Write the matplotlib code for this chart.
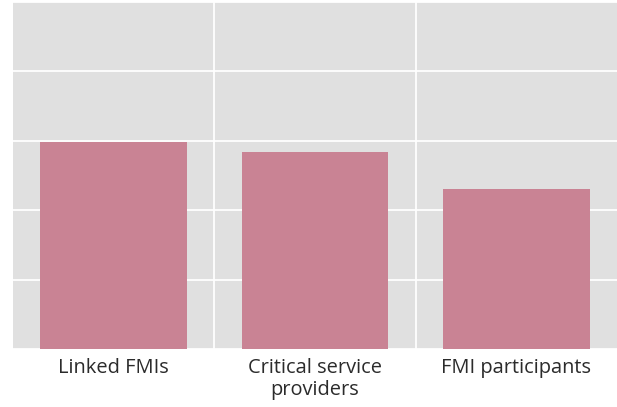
import matplotlib
matplotlib.use("Agg")
import matplotlib.pyplot as plt
from matplotlib.ticker import FixedLocator

categories = ["Linked FMIs", "Critical service\nproviders", "FMI participants"]
values = [2.98, 2.84, 2.30]

fig = plt.figure(figsize=(6.17, 4.07), dpi=100)
ax = fig.add_axes([13/617, 1 - 349/407, 604/617, 347/407])
ax.set_facecolor("#e0e0e0")
x = list(range(len(categories)))
ax.bar(x, values, width=0.73, color="#c98394", zorder=3)
ax.set_xlim(-0.5, 2.5)
ax.set_ylim(0, 5)
ax.set_yticks([0, 1, 2, 3, 4, 5])
ax.set_yticklabels([])
ax.xaxis.set_minor_locator(FixedLocator([0.5, 1.5]))
ax.set_xticks(x)
ax.set_xticklabels(categories, fontsize=14.4, color="#2b2b2b", linespacing=1.12,
                   family=["Open Sans", "DejaVu Sans"])
ax.tick_params(axis="both", which="both", length=0, pad=6.5)
ax.grid(axis="y", color="white", linewidth=1.3, zorder=1)
ax.grid(axis="x", which="minor", color="white", linewidth=1.3, zorder=1)
ax.grid(axis="x", which="major", visible=False)
for s in ax.spines.values():
    s.set_visible(False)
fig.savefig("out.png", dpi=100)
